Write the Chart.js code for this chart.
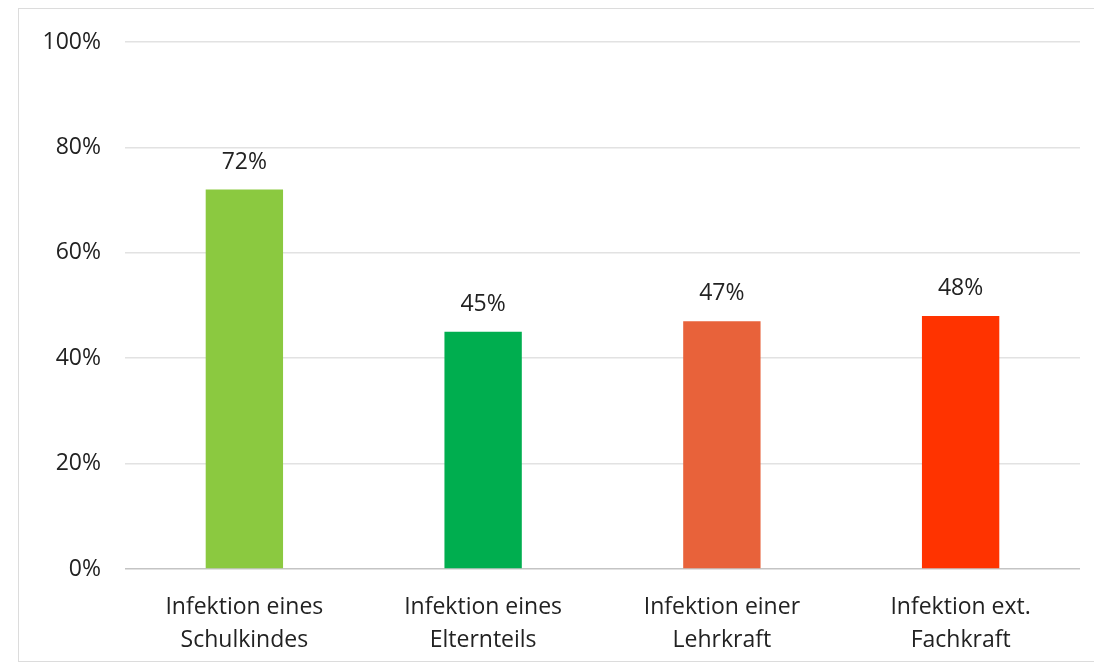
<!DOCTYPE html>
<html lang="de">
<head>
    <meta charset="UTF-8">
    <title>Infektion</title>
    <script src="https://cdn.jsdelivr.net/npm/chart.js@4/dist/chart.umd.min.js"></script>
    <style>
      body { margin: 0; background: #fff; }
      .wrap { position: relative; width: 1094px; height: 667px; }
      .frame {
        position: absolute; left: 18px; top: 8px; width: 1090px; height: 654px;
        border: 1px solid #dcdcdc; box-sizing: border-box;
      }
      canvas { position: absolute; left: 0; top: 0; }
    </style>
</head>
<body>
    <div class="wrap">
        <div class="frame"></div>
        <canvas id="chart" width="1094" height="667"></canvas>
    </div>

    <script>
        const categories = [
          ['Infektion eines', 'Schulkindes'],
          ['Infektion eines', 'Elternteils'],
          ['Infektion einer', 'Lehrkraft'],
          ['Infektion ext.', 'Fachkraft']
        ];
        const values = [72, 45, 47, 48];
        const barColors = ['#8bc940', '#00ae4f', '#e8623a', '#ff3300'];
        const yTicks = [0, 20, 40, 60, 80, 100];

        const FONT = '"Open Sans", sans-serif';

        // simple value labels above the bars
        const valueLabels = {
          id: 'valueLabels',
          afterDatasetsDraw(chart) {
            const ctx = chart.ctx;
            const meta = chart.getDatasetMeta(0);
            ctx.save();
            ctx.font = '23px ' + FONT;
            ctx.fillStyle = '#222';
            ctx.textAlign = 'center';
            ctx.textBaseline = 'alphabetic';
            meta.data.forEach((bar, i) => {
              ctx.fillText(values[i] + '%', bar.x, bar.y - 21);
            });
            ctx.restore();
          }
        };

        new Chart(document.getElementById('chart'), {
          type: 'bar',
          data: {
            labels: categories,
            datasets: [{
              data: values,
              backgroundColor: barColors,
              borderWidth: 0,
              categoryPercentage: 1,
              barPercentage: 0.324
            }]
          },
          options: {
            responsive: false,
            animation: false,
            layout: { padding: { top: 42, right: 14, left: 0, bottom: 0 } },
            plugins: {
              legend: { display: false },
              tooltip: { enabled: false }
            },
            scales: {
              x: {
                grid: { display: false, drawTicks: false },
                border: { display: false },
                ticks: {
                  color: '#222',
                  font: { family: FONT, size: 23, lineHeight: '33px' },
                  padding: 22,
                  maxRotation: 0
                },
                afterFit(scale) { scale.height = 98; }
              },
              y: {
                min: 0,
                max: 100,
                afterBuildTicks(scale) { scale.ticks = yTicks.map(v => ({ value: v })); },
                grid: {
                  drawTicks: false,
                  color: ctx => ctx.tick && ctx.tick.value === 0 ? '#c4c4c4' : '#e2e2e2',
                  lineWidth: 1.5
                },
                border: { display: false },
                ticks: {
                  color: '#222',
                  font: { family: FONT, size: 23 },
                  padding: 24,
                  callback: v => v + '%'
                },
                afterFit(scale) { scale.width = 125; }
              }
            }
          },
          plugins: [valueLabels]
        });
    </script>
</body>
</html>
